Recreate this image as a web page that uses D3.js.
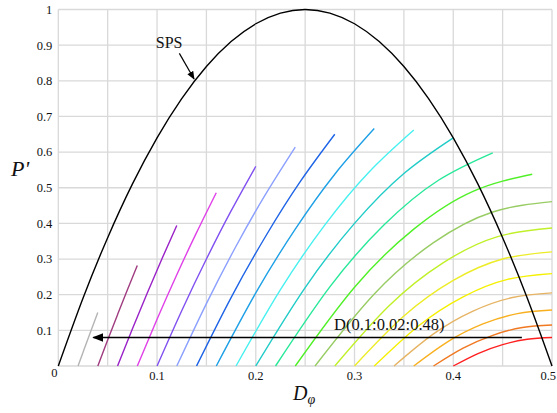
<!DOCTYPE html>
<html lang="en">
<head>
    <meta charset="utf-8">
    <title>SPS vs extended phase shift</title>
    <script src="https://d3js.org/d3.v7.min.js"></script>
    <style>
    body {
        margin: 0;
        background: #fff;
    }
    svg text {
        font-family: "Liberation Serif", "Times New Roman", serif;
        fill: #111;
    }
    .grid line {
        stroke: #d9d9d9;
        stroke-width: 1.3px;
    }
    </style>
</head>
<body>
<script>

// SPS boundary curve
var spsX = [0, 0.025, 0.05, 0.075, 0.1, 0.125, 0.15, 0.175, 0.2, 0.225, 0.25,
            0.275, 0.3, 0.325, 0.35, 0.375, 0.4, 0.425, 0.45, 0.475, 0.5];
var spsY = [0, 0.19, 0.36, 0.51, 0.64, 0.75, 0.84, 0.91, 0.96, 0.99, 1,
            0.99, 0.96, 0.91, 0.84, 0.75, 0.64, 0.51, 0.36, 0.19, 0];

// one curve per D value (0.48 down to 0.10)
var dValues = [0.48, 0.46, 0.44, 0.42, 0.40, 0.38, 0.36, 0.34, 0.32, 0.30,
               0.28, 0.26, 0.24, 0.22, 0.20, 0.18, 0.16, 0.14, 0.12, 0.10];

var curveColors = ["#b4b4b4", "#a03c80", "#9a22c8", "#e040e8", "#8050f0",
                   "#8ca0ff", "#1e64e6", "#1ea0e6", "#48f0f0", "#20ccc8",
                   "#28e89a", "#50f028", "#98cc64", "#c0f028", "#ecec28",
                   "#f4f000", "#e6b464", "#f8b020", "#f07820", "#ff2020"];

var curveX = [
    [0.02, 0.025, 0.03, 0.035, 0.04],
    [0.04, 0.05, 0.06, 0.07, 0.08],
    [0.06, 0.075, 0.09, 0.105, 0.12],
    [0.08, 0.10, 0.12, 0.14, 0.16],
    [0.10, 0.125, 0.15, 0.175, 0.20],
    [0.12, 0.15, 0.18, 0.21, 0.24],
    [0.14, 0.175, 0.21, 0.245, 0.28],
    [0.16, 0.20, 0.24, 0.28, 0.32],
    [0.18, 0.225, 0.27, 0.315, 0.36],
    [0.20, 0.25, 0.30, 0.35, 0.40],
    [0.22, 0.275, 0.33, 0.385, 0.44],
    [0.24, 0.30, 0.36, 0.42, 0.48],
    [0.26, 0.32, 0.38, 0.44, 0.50],
    [0.28, 0.335, 0.39, 0.445, 0.50],
    [0.30, 0.35, 0.40, 0.45, 0.50],
    [0.32, 0.365, 0.41, 0.455, 0.50],
    [0.34, 0.38, 0.42, 0.46, 0.50],
    [0.36, 0.395, 0.43, 0.465, 0.50],
    [0.38, 0.41, 0.44, 0.47, 0.50],
    [0.40, 0.425, 0.45, 0.475, 0.50]
];

var curveY = [
    [0, 0.038, 0.076, 0.113, 0.150],
    [0, 0.073, 0.144, 0.214, 0.282],
    [0, 0.104, 0.204, 0.301, 0.394],
    [0, 0.131, 0.256, 0.374, 0.486],
    [0, 0.155, 0.300, 0.435, 0.560],
    [0, 0.175, 0.336, 0.482, 0.614],
    [0, 0.192, 0.364, 0.517, 0.650],
    [0, 0.205, 0.384, 0.538, 0.666],
    [0, 0.214, 0.396, 0.545, 0.662],
    [0, 0.220, 0.400, 0.540, 0.640],
    [0, 0.222, 0.396, 0.521, 0.598],
    [0, 0.221, 0.384, 0.490, 0.538],
    [0, 0.202, 0.346, 0.432, 0.461],
    [0, 0.169, 0.290, 0.363, 0.387],
    [0, 0.140, 0.240, 0.300, 0.320],
    [0, 0.113, 0.194, 0.243, 0.259],
    [0, 0.090, 0.154, 0.192, 0.205],
    [0, 0.069, 0.118, 0.147, 0.157],
    [0, 0.050, 0.086, 0.108, 0.115],
    [0, 0.035, 0.060, 0.075, 0.080]
];

var xTicks = [0.1, 0.2, 0.3, 0.4, 0.5];
var yTicks = [0.1, 0.2, 0.3, 0.4, 0.5, 0.6, 0.7, 0.8, 0.9, 1];

var width = 557,
    height = 413;

var x = d3.scaleLinear().domain([0, 0.5]).range([58.3, 552]);
var y = d3.scaleLinear().domain([0, 1]).range([366, 9.5]);

var svg = d3.select("body")
    .append("svg")
    .attr("width", width)
    .attr("height", height);

// arrow head
svg.append("defs").append("marker")
    .attr("id", "head")
    .attr("viewBox", "0 0 10 10")
    .attr("refX", 9)
    .attr("refY", 5)
    .attr("markerWidth", 7)
    .attr("markerHeight", 7)
    .attr("orient", "auto")
    .append("path")
    .attr("d", "M0,1 L10,5 L0,9 Z")
    .attr("fill", "#000");

// grid
var grid = svg.append("g").attr("class", "grid");
grid.selectAll(".vx")
    .data(d3.range(0, 11).map(function(i) { return i * 0.05; }))
    .enter().append("line")
    .attr("x1", function(d) { return x(d); })
    .attr("x2", function(d) { return x(d); })
    .attr("y1", y(0))
    .attr("y2", y(1));
grid.selectAll(".hy")
    .data(d3.range(0, 11).map(function(i) { return i * 0.1; }))
    .enter().append("line")
    .attr("x1", x(0))
    .attr("x2", x(0.5))
    .attr("y1", function(d) { return y(d); })
    .attr("y2", function(d) { return y(d); });

// tick labels
svg.selectAll(".ytick")
    .data(yTicks)
    .enter().append("text")
    .attr("x", x(0) - 6)
    .attr("y", function(d) { return y(d); })
    .attr("dy", "0.35em")
    .attr("text-anchor", "end")
    .style("font-size", "12.5px")
    .text(function(d) { return d3.format("")(+d.toFixed(1)); });

// last label pulled in a bit so it stays inside the window
svg.selectAll(".xtick")
    .data(xTicks)
    .enter().append("text")
    .attr("x", function(d) { return d === 0.5 ? width - 1 : x(d); })
    .attr("y", y(0) + 13.5)
    .attr("text-anchor", function(d) { return d === 0.5 ? "end" : "middle"; })
    .style("font-size", "12.5px")
    .text(function(d) { return d.toFixed(1); });

svg.append("text")
    .attr("x", x(0) - 4)
    .attr("y", y(0) + 10.5)
    .attr("text-anchor", "middle")
    .style("font-size", "12.5px")
    .text("0");

// axis titles
svg.append("text")
    .attr("x", 11)
    .attr("y", 176)
    .style("font-size", "22px")
    .style("font-style", "italic")
    .text("P'");

var xt = svg.append("text")
    .attr("x", 293)
    .attr("y", 400)
    .style("font-size", "20px")
    .style("font-style", "italic");
xt.append("tspan").text("D");
xt.append("tspan")
    .attr("dy", 4)
    .style("font-size", "14px")
    .text("φ");

var line = d3.line()
    .x(function(d) { return x(d[0]); })
    .y(function(d) { return y(d[1]); })
    .curve(d3.curveNatural);

// colored D curves
svg.selectAll(".dcurve")
    .data(dValues)
    .enter().append("path")
    .attr("class", "dcurve")
    .attr("fill", "none")
    .attr("stroke", function(d, i) { return curveColors[i]; })
    .attr("stroke-width", 1.4)
    .attr("d", function(d, i) {
        return line(d3.zip(curveX[i], curveY[i]));
    });

// SPS curve
svg.append("path")
    .attr("fill", "none")
    .attr("stroke", "#000")
    .attr("stroke-width", 1.4)
    .attr("d", line(d3.zip(spsX, spsY)));

// SPS label and arrow
svg.append("text")
    .attr("x", x(0.0987))
    .attr("y", y(0.891))
    .style("font-size", "16px")
    .text("SPS");

svg.append("line")
    .attr("x1", x(0.1226))
    .attr("y1", y(0.877))
    .attr("x2", x(0.1375))
    .attr("y2", y(0.805))
    .attr("stroke", "#000")
    .attr("stroke-width", 1.2)
    .attr("marker-end", "url(#head)");

// D sweep arrow
svg.append("line")
    .attr("x1", x(0.4695))
    .attr("y1", y(0.08))
    .attr("x2", x(0.0355))
    .attr("y2", y(0.08))
    .attr("stroke", "#000")
    .attr("stroke-width", 1.6)
    .attr("marker-end", "url(#head)");

svg.append("text")
    .attr("x", x(0.2793))
    .attr("y", y(0.101))
    .style("font-size", "16.5px")
    .text("D(0.1:0.02:0.48)");

</script>
</body>
</html>
